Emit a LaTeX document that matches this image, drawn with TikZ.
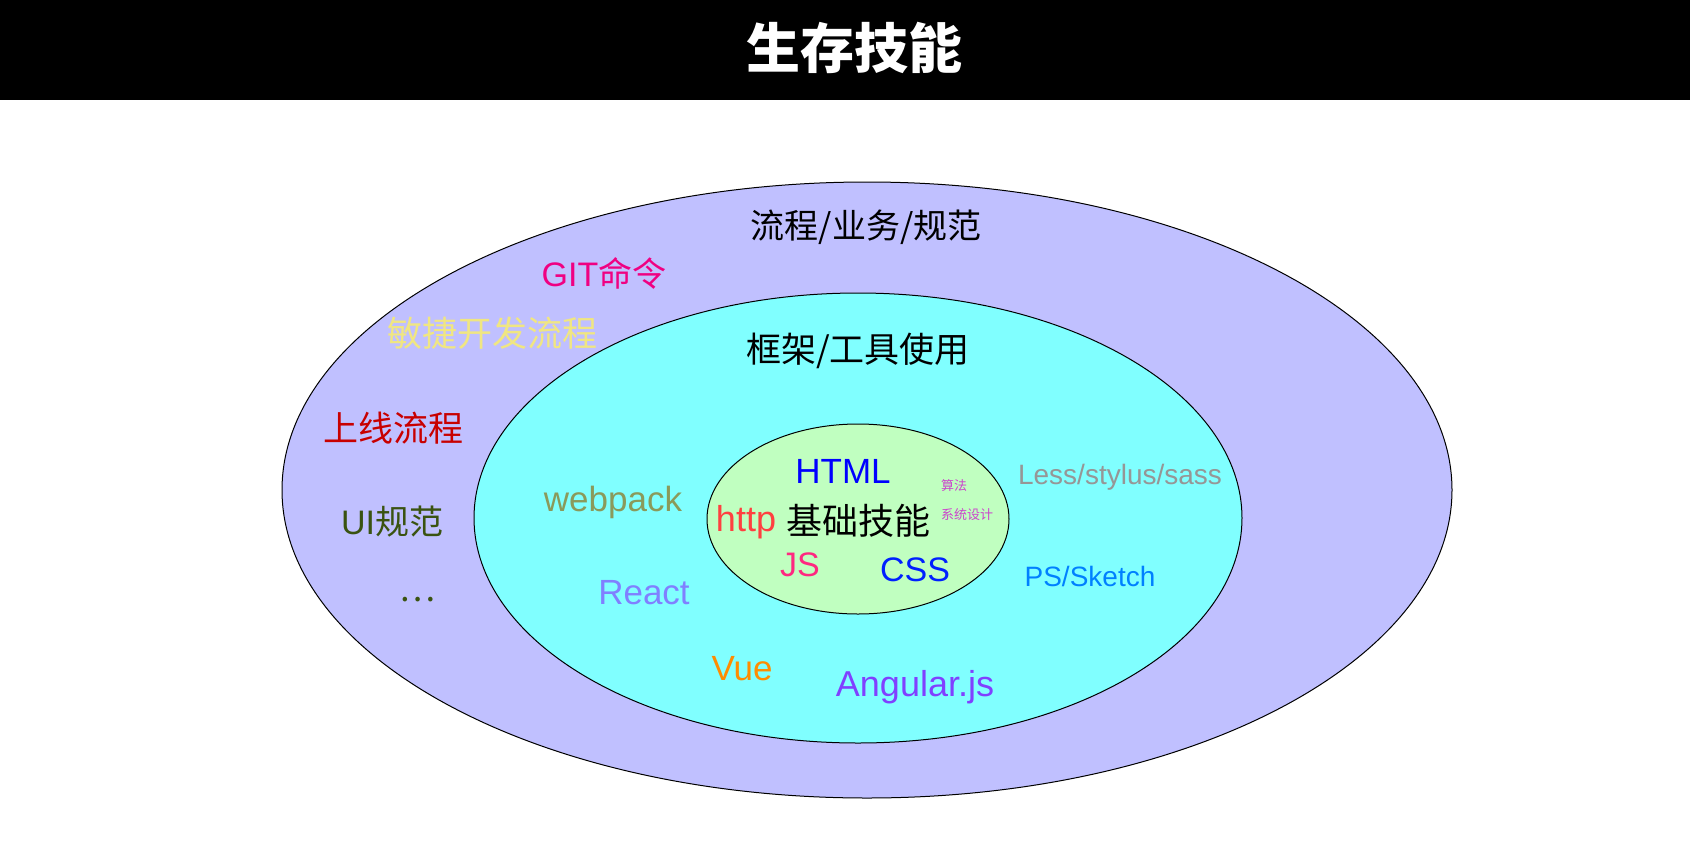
\documentclass[tikz,border=0pt]{standalone}
\usepackage{fontspec}
\setmainfont{Liberation Sans}
\newfontfamily\cjk{Noto Sans CJK SC}
\definecolor{outerc}{RGB}{192,192,255}
\definecolor{midc}{RGB}{128,255,255}
\definecolor{innerc}{RGB}{192,255,192}
\definecolor{gitc}{RGB}{240,0,130}
\definecolor{agilec}{RGB}{240,230,130}
\definecolor{onlinec}{RGB}{200,0,0}
\definecolor{uic}{RGB}{58,83,17}
\definecolor{webpackc}{RGB}{138,154,91}
\definecolor{reactc}{RGB}{128,128,255}
\definecolor{vuec}{RGB}{255,140,0}
\definecolor{angularc}{RGB}{128,64,255}
\definecolor{lessc}{RGB}{150,150,150}
\definecolor{psc}{RGB}{0,128,255}
\definecolor{htmlc}{RGB}{0,0,255}
\definecolor{httpc}{RGB}{255,64,64}
\definecolor{jsc}{RGB}{255,40,128}
\definecolor{cssc}{RGB}{0,32,255}
\definecolor{algoc}{RGB}{204,68,204}
\begin{document}
\begin{tikzpicture}[x=1pt,y=-1pt,
  every node/.style={inner sep=0pt, anchor=center},
  ring/.style={draw=black, line width=1pt},
  fs/.style={font=\fontsize{#1}{#1}\selectfont},
  cfs/.style={font=\cjk\fontsize{#1}{#1}\selectfont}]
\useasboundingbox (0,0) rectangle (1690,860);
\fill[white] (0,0) rectangle (1690,860);
\fill[black] (0,0) rectangle (1690,100);
\node[text=white, font={\cjk\bfseries\fontsize{54}{54}\selectfont}] (title) at (854,48) {生存技能};

\draw[ring, fill=outerc] (867,490) ellipse [x radius=585pt, y radius=308pt];
\draw[ring, fill=midc] (858,518) ellipse [x radius=384pt, y radius=225pt];
\draw[ring, fill=innerc] (858,519) ellipse [x radius=151pt, y radius=95pt];

% outer ring
\node[cfs=34] (proc) at (866,227) {流程/业务/规范};
\node[fs=34, text=gitc] (git) at (604,273) {GIT{\cjk 命令}};
\node[cfs=35, text=agilec] (agile) at (492,333) {敏捷开发流程};
\node[cfs=35, text=onlinec] (online) at (393,428) {上线流程};
\node[fs=34, text=uic] (ui) at (392,522) {UI{\cjk 规范}};
\node[cfs=34, text=uic] (dots) at (417,600) {…};

% middle ring
\node[cfs=35] (frame) at (858,351) {框架/工具使用};
\node[fs=35, text=webpackc] (webpack) at (613,502) {webpack};
\node[fs=35, text=reactc] (react) at (644,593) {React};
\node[fs=35, text=vuec] (vue) at (742,669) {Vue};
\node[fs=36, text=angularc] (angular) at (915,687) {Angular.js};
\node[fs=28, text=lessc] (less) at (1120,477) {Less/stylus/sass};
\node[fs=28, text=psc] (ps) at (1090,576) {PS/Sketch};

% inner
\node[fs=35, text=htmlc] (html) at (843,471) {HTML};
\node[fs=36, text=httpc] (http) at (746,522) {http};
\node[cfs=36] (basic) at (858,521) {基础技能};
\node[fs=34, text=jsc] (js) at (800,565) {JS};
\node[fs=34, text=cssc] (css) at (915,570) {CSS};
\node[cfs=13, text=algoc] (algo) at (954,486) {算法};
\node[cfs=13, text=algoc] (sys) at (967,515) {系统设计};
\end{tikzpicture}
\end{document}
